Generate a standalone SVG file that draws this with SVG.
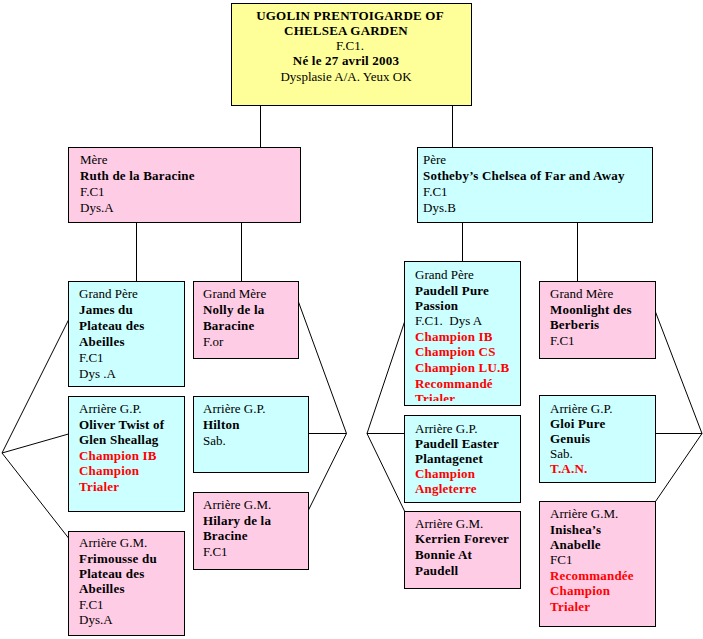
<svg xmlns="http://www.w3.org/2000/svg" width="703" height="639" viewBox="0 0 703 639">
<style>
text{font-family:"Liberation Serif","Times New Roman",serif;font-size:13px;fill:#000}
.b{font-weight:bold;letter-spacing:0.2px}
.r{font-weight:bold;letter-spacing:0.2px;fill:#ff0000}
.box{stroke:#000;stroke-width:1}
.y{fill:#ffff99}
.p{fill:#ffcce6}
.c{fill:#ccffff}
#connectors line,#connectors polyline{stroke:#000;stroke-width:1;fill:none}
</style>
<defs>
<clipPath id="clipPaudell"><rect x="405" y="262" width="115" height="139"/></clipPath>
</defs>
<g id="connectors">
<line x1="260.5" y1="105.5" x2="260.5" y2="147.5"/>
<line x1="452.5" y1="105.5" x2="452.5" y2="147.5"/>
<line x1="136.5" y1="222.5" x2="136.5" y2="281.5"/>
<line x1="241.5" y1="222.5" x2="241.5" y2="281.5"/>
<line x1="462.5" y1="222.5" x2="462.5" y2="261.5"/>
<line x1="577.5" y1="222.5" x2="577.5" y2="281.5"/>
<polyline points="68.5,320 2,453 68.5,538"/>
<line x1="2" y1="453" x2="68.5" y2="434"/>
<polyline points="298.5,302 346.5,433.5 308.5,510"/>
<line x1="308.5" y1="433.5" x2="346.5" y2="433.5"/>
<polyline points="404.5,322 367,433.5 404.5,511"/>
<line x1="367" y1="433.5" x2="404.5" y2="433.5"/>
<polyline points="655.5,312 702,433.5 655.5,501.5"/>
<line x1="655.5" y1="433.5" x2="702" y2="433.5"/>
</g>
<g id="top">
<rect class="box y" x="231.5" y="3.5" width="240" height="102"/>
<text class="b" x="350" y="20" text-anchor="middle">UGOLIN PRENTOIGARDE OF</text>
<text class="b" x="346" y="35" text-anchor="middle">CHELSEA GARDEN</text>
<text x="350" y="50" text-anchor="middle">F.C1.</text>
<text class="b" x="346" y="65" text-anchor="middle">Né le 27 avril 2003</text>
<text x="346" y="81" text-anchor="middle">Dysplasie A/A. Yeux OK</text>
</g>
<g id="mere">
<rect class="box p" x="68.5" y="147.5" width="232" height="75"/>
<text x="80" y="164">Mère</text>
<text class="b" x="80" y="180">Ruth de la Baracine</text>
<text x="80" y="196">F.C1</text>
<text x="80" y="212">Dys.A</text>
</g>
<g id="pere">
<rect class="box c" x="417.5" y="147.5" width="235" height="75"/>
<text x="423" y="164">Père</text>
<text class="b" x="423" y="180">Sotheby’s Chelsea of Far and Away</text>
<text x="423" y="196">F.C1</text>
<text x="423" y="212">Dys.B</text>
</g>
<g id="james">
<rect class="box c" x="68.5" y="281.5" width="116" height="105"/>
<text x="79" y="298">Grand Père</text>
<text class="b" x="79" y="314">James du</text>
<text class="b" x="79" y="330">Plateau des</text>
<text class="b" x="79" y="346">Abeilles</text>
<text x="79" y="362">F.C1</text>
<text x="79" y="378">Dys .A</text>
</g>
<g id="nolly">
<rect class="box p" x="193.5" y="281.5" width="105" height="77"/>
<text x="203" y="298">Grand Mère</text>
<text class="b" x="203" y="314">Nolly de la</text>
<text class="b" x="203" y="330">Baracine</text>
<text x="203" y="346">F.or</text>
</g>
<g id="oliver">
<rect class="box c" x="68.5" y="396.5" width="116" height="115"/>
<text x="79" y="413">Arrière G.P.</text>
<text class="b" x="79" y="429">Oliver Twist of</text>
<text class="b" x="79" y="444">Glen Sheallag</text>
<text class="r" x="79" y="460">Champion IB</text>
<text class="r" x="79" y="475">Champion</text>
<text class="r" x="79" y="491">Trialer</text>
</g>
<g id="hilton">
<rect class="box c" x="193.5" y="396.5" width="115" height="76"/>
<text x="203" y="413">Arrière G.P.</text>
<text class="b" x="203" y="429">Hilton</text>
<text x="203" y="445">Sab.</text>
</g>
<g id="hilary">
<rect class="box p" x="193.5" y="492.5" width="115" height="77"/>
<text x="203" y="509">Arrière G.M.</text>
<text class="b" x="203" y="525">Hilary de la</text>
<text class="b" x="203" y="540">Bracine</text>
<text x="203" y="556">F.C1</text>
</g>
<g id="frimousse">
<rect class="box p" x="68.5" y="531.5" width="116" height="104"/>
<text x="79" y="547">Arrière G.M.</text>
<text class="b" x="79" y="562.5">Frimousse du</text>
<text class="b" x="79" y="578">Plateau des</text>
<text class="b" x="79" y="593">Abeilles</text>
<text x="79" y="608.5">F.C1</text>
<text x="79" y="624">Dys.A</text>
</g>
<g id="paudell">
<rect class="box c" x="404.5" y="261.5" width="116" height="144"/>
<g clip-path="url(#clipPaudell)">
<text x="415" y="279">Grand Père</text>
<text class="b" x="415" y="294.5">Paudell Pure</text>
<text class="b" x="415" y="310">Passion</text>
<text x="415" y="325">F.C1.&#160; Dys A</text>
<text class="r" x="415" y="341">Champion IB</text>
<text class="r" x="415" y="356">Champion CS</text>
<text class="r" x="415" y="372">Champion LU.B</text>
<text class="r" x="415" y="387.5">Recommandé</text>
<text class="r" x="415" y="403">Trialer</text>
</g>
</g>
<g id="moonlight">
<rect class="box p" x="539.5" y="281.5" width="116" height="77"/>
<text x="550" y="298">Grand Mère</text>
<text class="b" x="550" y="313.5">Moonlight des</text>
<text class="b" x="550" y="329">Berberis</text>
<text x="550" y="345">F.C1</text>
</g>
<g id="easter">
<rect class="box c" x="404.5" y="415.5" width="116" height="87"/>
<text x="415" y="432.5">Arrière G.P.</text>
<text class="b" x="415" y="447.5">Paudell Easter</text>
<text class="b" x="415" y="463">Plantagenet</text>
<text class="r" x="415" y="478">Champion</text>
<text class="r" x="415" y="493">Angleterre</text>
</g>
<g id="gloi">
<rect class="box c" x="539.5" y="395.5" width="116" height="87"/>
<text x="550" y="412.5">Arrière G.P.</text>
<text class="b" x="550" y="428">Gloi Pure</text>
<text class="b" x="550" y="443">Genuis</text>
<text x="550" y="458">Sab.</text>
<text class="r" x="550" y="473">T.A.N.</text>
</g>
<g id="kerrien">
<rect class="box p" x="404.5" y="511.5" width="116" height="77"/>
<text x="415" y="527.5">Arrière G.M.</text>
<text class="b" x="415" y="543">Kerrien Forever</text>
<text class="b" x="415" y="559">Bonnie At</text>
<text class="b" x="415" y="575">Paudell</text>
</g>
<g id="inishea">
<rect class="box p" x="539.5" y="501.5" width="116" height="125"/>
<text x="550" y="518">Arrière G.M.</text>
<text class="b" x="550" y="534">Inishea’s</text>
<text class="b" x="550" y="549">Anabelle</text>
<text x="550" y="564">FC1</text>
<text class="r" x="550" y="580">Recommandée</text>
<text class="r" x="550" y="595">Champion</text>
<text class="r" x="550" y="610.5">Trialer</text>
</g>
</svg>
